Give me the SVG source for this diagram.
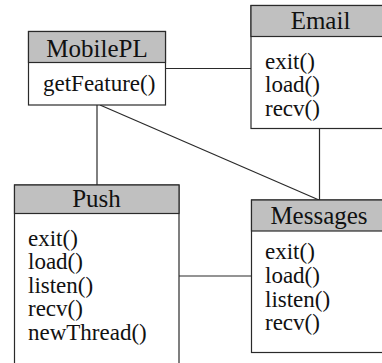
<svg xmlns="http://www.w3.org/2000/svg" width="382" height="363" viewBox="0 0 382 363">
  <style>
    .box { fill: #ffffff; stroke: #2a2a2a; stroke-width: 1.2; }
    .head { fill: #c0c0c0; stroke: #2a2a2a; stroke-width: 1.2; }
    .title { font-size: 25px; fill: #111; text-anchor: middle; }
    .op { font-size: 23px; fill: #111; }
    .link { stroke: #2a2a2a; stroke-width: 1.2; fill: none; }
  </style>
  <rect width="382" height="363" fill="#ffffff"/>

  <!-- associations between classes -->
  <g id="connectors">
    <line class="link" x1="165.5" y1="68.5" x2="251" y2="68.5"/>
    <line class="link" x1="97" y1="105" x2="97" y2="185"/>
    <line class="link" x1="100" y1="105" x2="319" y2="200"/>
    <line class="link" x1="319.5" y1="128.5" x2="319.5" y2="200"/>
    <line class="link" x1="179" y1="276" x2="251.5" y2="276"/>
  </g>

  <g id="MobilePL" font-family="Liberation Serif, Times New Roman, serif">
    <rect class="box" x="28.5" y="31.5" width="137" height="73.5"/>
    <rect class="head" x="28.5" y="31.5" width="137" height="31"/>
    <text class="title" x="97" y="56.5">MobilePL</text>
    <text class="op" x="43" y="91">getFeature()</text>
  </g>

  <g id="Email" font-family="Liberation Serif, Times New Roman, serif">
    <rect class="box" x="251" y="5.5" width="140" height="123"/>
    <rect class="head" x="251" y="5.5" width="140" height="31"/>
    <text class="title" x="320.5" y="28.5">Email</text>
    <text class="op" x="265" y="68.5">exit()</text>
    <text class="op" x="265" y="92">load()</text>
    <text class="op" x="265" y="115.5">recv()</text>
  </g>

  <g id="Push" font-family="Liberation Serif, Times New Roman, serif">
    <rect class="box" x="14.5" y="185" width="164.5" height="185"/>
    <rect class="head" x="14.5" y="185" width="164.5" height="28.5"/>
    <text class="title" x="96.5" y="206.5">Push</text>
    <text class="op" x="28" y="245.5">exit()</text>
    <text class="op" x="28" y="269">load()</text>
    <text class="op" x="28" y="292.5">listen()</text>
    <text class="op" x="28" y="316">recv()</text>
    <text class="op" x="28" y="339.5">newThread()</text>
  </g>

  <g id="Messages" font-family="Liberation Serif, Times New Roman, serif">
    <rect class="box" x="251.5" y="200" width="140" height="152.5"/>
    <rect class="head" x="251.5" y="200" width="140" height="31"/>
    <text class="title" x="319" y="223.5">Messages</text>
    <text class="op" x="265" y="258.5">exit()</text>
    <text class="op" x="265" y="282.5">load()</text>
    <text class="op" x="265" y="306.5">listen()</text>
    <text class="op" x="265" y="330">recv()</text>
  </g>
</svg>
